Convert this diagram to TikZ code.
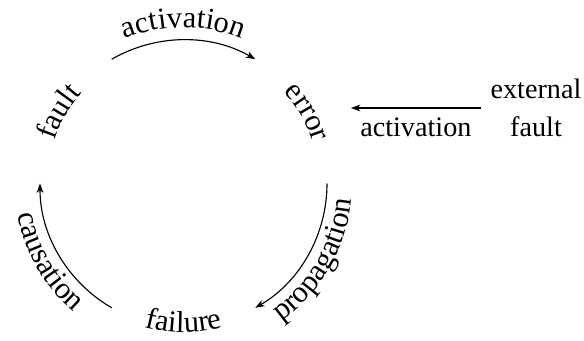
\documentclass[tikz,border=0pt]{standalone}
\usepackage{fontspec}
\setmainfont{Liberation Serif}
\usetikzlibrary{arrows.meta, decorations.text, calc}

\tikzset{
  flow/.style={-{Stealth[length=3.3pt, width=2.4pt, inset=0.9pt]}, line width=0.4pt},
  bent/.style={decorate, decoration={text along path, text={|\fontsize{10.8}{13}\selectfont|#1}, text align=center}},
}

\begin{document}
\begin{tikzpicture}[x=0.355pt, y=0.355pt]
  \useasboundingbox (0,0) rectangle (584,340);
  \coordinate (C) at (183.5,156.5);
  \def\R{143.5}

  % states
  \path[bent=fault] ($(C)+(200:136)$) arc[start angle=200, end angle=100, radius=136];
  \path[bent=error] ($(C)+(80:136)$) arc[start angle=80, end angle=-20, radius=136];
  \path[bent=failure] ($(C)+(220:149)$) arc[start angle=220, end angle=320, radius=149];

  % cycle
  \coordinate (faultout) at ($(C)+(120:\R)$);
  \coordinate (errorout) at ($(C)+(0:\R)$);
  \coordinate (failout) at ($(C)+(-120:\R)$);
  \draw[flow] (faultout) arc[start angle=120, end angle=60, radius=\R];
  \draw[flow] (errorout) arc[start angle=0, end angle=-60, radius=\R];
  \draw[flow] (failout) arc[start angle=-120, end angle=-180, radius=\R];

  \path[bent=activation] ($(C)+(150:156)$) arc[start angle=150, end angle=30, radius=156];
  \path[bent=propagation] ($(C)+(-80:169)$) arc[start angle=-80, end angle=20, radius=169];
  \path[bent=causation] ($(C)+(160:169)$) arc[start angle=160, end angle=260, radius=169];

  % outside
  \node[align=center, font=\fontsize{10}{13.5}\selectfont] (ext) at (536,232) {external\\fault};
  \coordinate (errin) at (351,231);
  \draw[flow] (ext.west) -- (ext.west -| errin) node[midway, below] {activation};
\end{tikzpicture}
\end{document}
